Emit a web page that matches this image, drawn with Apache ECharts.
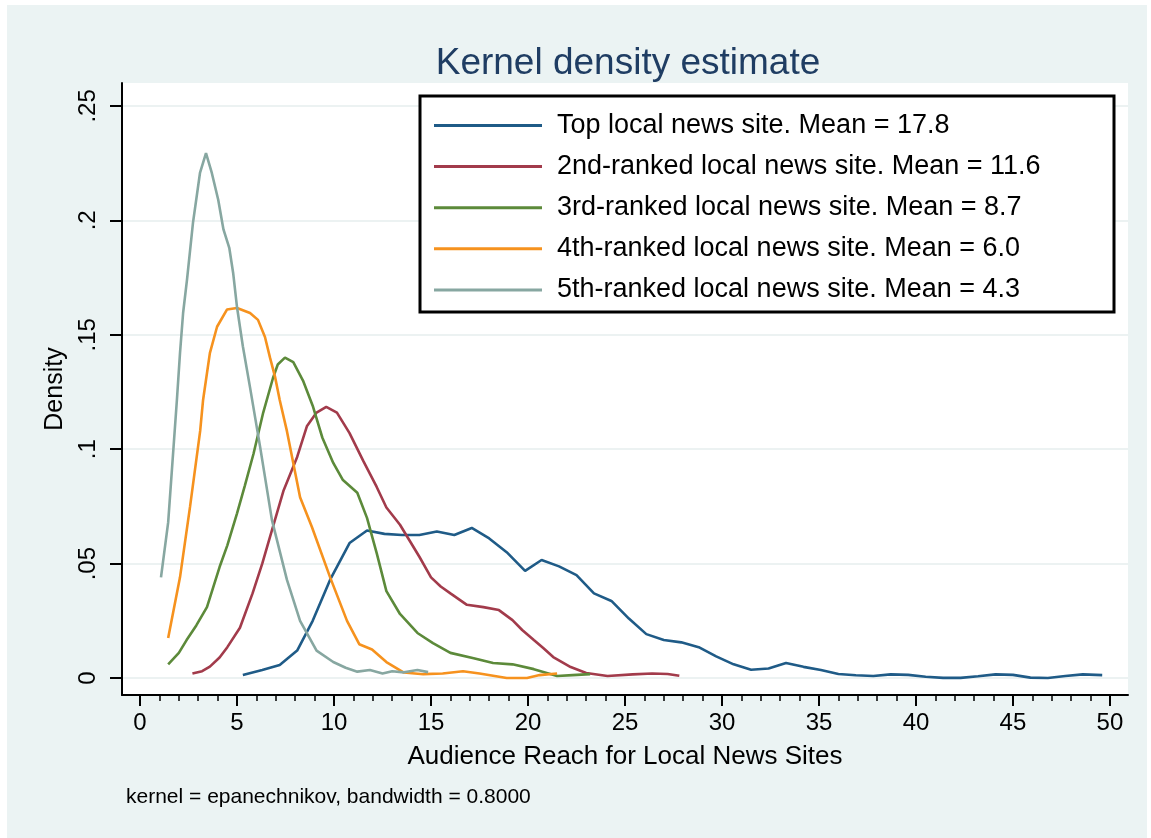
<!DOCTYPE html>
<html>
<head>
<meta charset="utf-8">
<title>Kernel density estimate</title>
<script src="https://cdn.jsdelivr.net/npm/echarts@6/dist/echarts.min.js"></script>
<style>
  html, body { margin: 0; padding: 0; background: #ffffff; }
  #frame { position: absolute; left: 7px; top: 5px; width: 1140px; height: 833px; background: #ebf3f3; }
  #chart { position: absolute; left: 0; top: 0; width: 1151px; height: 838px; }
</style>
</head>
<body>
<div id="frame"></div>
<div id="chart"></div>
<script>
// Density curves: [audience reach, density] pairs for each ranked site
const reachTop = [
  [5.3, 0.0013], [6.3, 0.0035], [7.2, 0.0057], [8.1, 0.012], [8.9, 0.025], [9.8, 0.043],
  [10.8, 0.059], [11.7, 0.0645], [12.6, 0.063], [13.5, 0.0625], [14.4, 0.0625], [15.3, 0.064],
  [16.2, 0.0625], [17.1, 0.0656], [18.0, 0.061], [18.9, 0.055], [19.85, 0.0468], [20.7, 0.0516],
  [21.6, 0.0488], [22.5, 0.045], [23.4, 0.037], [24.3, 0.0337], [25.2, 0.026], [26.1, 0.0192],
  [27.0, 0.0166], [27.9, 0.0156], [28.8, 0.0135], [29.7, 0.0095], [30.6, 0.006], [31.5, 0.0036],
  [32.4, 0.0042], [33.3, 0.0066], [34.2, 0.0049], [35.1, 0.0035], [36.0, 0.0018], [36.9, 0.0012],
  [37.8, 0.0009], [38.7, 0.0016], [39.6, 0.0014], [40.5, 0.0006], [41.4, 0.0001], [42.3, 0.0001],
  [43.2, 0.0008], [44.1, 0.0016], [45.0, 0.0014], [45.9, 0.0002], [46.8, 0.0], [47.7, 0.0009],
  [48.6, 0.0016], [49.6, 0.0013]
];
const reach2nd = [
  [2.7, 0.002], [3.2, 0.003], [3.6, 0.005], [4.1, 0.009], [4.5, 0.0135], [5.15, 0.022],
  [5.8, 0.037], [6.3, 0.05], [6.7, 0.0617], [7.4, 0.082], [8.1, 0.0966], [8.6, 0.11],
  [9.1, 0.116], [9.6, 0.1185], [10.15, 0.116], [10.8, 0.107], [11.5, 0.095], [12.2, 0.0835],
  [12.7, 0.0745], [13.4, 0.067], [13.9, 0.06], [14.4, 0.053], [15.0, 0.044], [15.5, 0.04],
  [16.0, 0.037], [16.85, 0.032], [17.7, 0.031], [18.5, 0.0297], [19.2, 0.0253], [19.7, 0.021],
  [20.3, 0.0166], [20.8, 0.013], [21.3, 0.0092], [22.2, 0.0048], [23.0, 0.0022], [24.1, 0.0009],
  [25.4, 0.0016], [26.4, 0.002], [27.2, 0.0018], [27.8, 0.001]
];
const reach3rd = [
  [1.45, 0.006], [2.0, 0.011], [2.4, 0.0166], [2.9, 0.023], [3.45, 0.031], [4.1, 0.0485],
  [4.5, 0.058], [5.0, 0.072], [5.4, 0.084], [5.85, 0.098], [6.35, 0.116], [6.85, 0.131],
  [7.1, 0.137], [7.47, 0.14], [7.9, 0.138], [8.4, 0.13], [8.9, 0.119], [9.4, 0.105],
  [9.96, 0.094], [10.46, 0.0865], [11.2, 0.081], [11.7, 0.07], [12.2, 0.0546],
  [12.7, 0.038], [13.4, 0.028], [14.3, 0.0197], [15.1, 0.0153], [16.0, 0.011], [17.2, 0.0087],
  [18.2, 0.0066], [19.2, 0.006], [20.3, 0.0039], [21.5, 0.0009], [22.3, 0.0013], [23.2, 0.0017]
];
const reach4th = [
  [1.45, 0.0175], [2.06, 0.044], [2.58, 0.075], [3.1, 0.108], [3.25, 0.1215], [3.6, 0.142],
  [3.97, 0.1535], [4.48, 0.161], [5.0, 0.1617], [5.67, 0.1595], [6.08, 0.1565], [6.44, 0.149],
  [6.7, 0.14], [6.96, 0.1316], [7.2, 0.1215], [7.57, 0.108], [8.25, 0.079], [8.86, 0.066],
  [9.8, 0.044], [10.67, 0.025], [11.3, 0.0148], [11.96, 0.0125], [12.7, 0.007], [13.6, 0.0024],
  [14.6, 0.0017], [15.6, 0.002], [16.65, 0.003], [17.5, 0.002], [18.9, 0.0], [19.95, 0.0],
  [20.6, 0.0013], [21.5, 0.002]
];
const reach5th = [
  [1.08, 0.044], [1.45, 0.068], [1.9, 0.1215], [2.06, 0.142], [2.22, 0.1595], [2.42, 0.174],
  [2.73, 0.199], [3.09, 0.2207], [3.4, 0.2294], [3.7, 0.2207], [4.03, 0.209], [4.3, 0.196],
  [4.6, 0.188], [4.8, 0.177], [5.0, 0.162], [5.3, 0.145], [5.67, 0.127], [6.19, 0.101],
  [6.8, 0.069], [7.57, 0.043], [8.25, 0.025], [9.1, 0.012], [9.96, 0.007], [10.6, 0.0045],
  [11.2, 0.0028], [11.85, 0.0035], [12.5, 0.002], [13.0, 0.003], [13.6, 0.0025],
  [14.3, 0.0035], [14.85, 0.0026]
];

const seriesNames = [
  'Top local news site. Mean = 17.8',
  '2nd-ranked local news site. Mean = 11.6',
  '3rd-ranked local news site. Mean = 8.7',
  '4th-ranked local news site. Mean = 6.0',
  '5th-ranked local news site. Mean = 4.3'
];
const seriesData = [reachTop, reach2nd, reach3rd, reach4th, reach5th];
const seriesColors = ['#1f5b87', '#a23b4b', '#5c8a3a', '#f6921e', '#87a7a1'];

const xMajorTicks = [0, 5, 10, 15, 20, 25, 30, 35, 40, 45, 50];
const xMinorTicks = [];
for (let v = 1; v < 50; v++) { if (v % 5 !== 0) xMinorTicks.push(v); }
const yTicks = [0, 0.05, 0.1, 0.15, 0.2, 0.25];

const FONT = '"Liberation Sans", Arial, Helvetica, sans-serif';

const chart = echarts.init(document.getElementById('chart'), null, { renderer: 'canvas' });

const option = {
  backgroundColor: 'transparent',
  animation: false,
  title: {
    text: 'Kernel density estimate',
    left: 623,
    top: 40,
    textAlign: 'center',
    textStyle: { fontFamily: FONT, fontSize: 37, fontWeight: 'normal', color: '#1f3d63' }
  },
  grid: {
    left: 122, top: 83, width: 1006, height: 612,
    show: true, backgroundColor: '#ffffff', borderWidth: 0
  },
  xAxis: [
    {
      type: 'value', min: -0.93, max: 50.93, position: 'bottom',
      name: 'Audience Reach for Local News Sites',
      nameLocation: 'middle', nameGap: 49,
      nameTextStyle: { fontFamily: FONT, fontSize: 26, color: '#000' },
      axisLine: { show: true, onZero: false, lineStyle: { color: '#000', width: 2 } },
      axisTick: { show: true, customValues: xMajorTicks, length: 11, lineStyle: { color: '#000', width: 2 } },
      axisLabel: { show: true, customValues: xMajorTicks, margin: 16, fontFamily: FONT, fontSize: 24, color: '#000' },
      splitLine: { show: false }
    },
    {
      type: 'value', min: -0.93, max: 50.93, position: 'bottom', offset: 0,
      axisLine: { show: false, onZero: false },
      axisTick: { show: true, customValues: xMinorTicks, length: 6, lineStyle: { color: '#000', width: 1.5 } },
      axisLabel: { show: false },
      splitLine: { show: false }
    }
  ],
  yAxis: {
    type: 'value', min: -0.0074, max: 0.26,
    name: 'Density', nameLocation: 'middle', nameGap: 50,
    nameTextStyle: { fontFamily: FONT, fontSize: 25, color: '#000' },
    axisLine: { show: true, onZero: false, lineStyle: { color: '#000', width: 2 } },
    axisTick: { show: true, customValues: yTicks, length: 12, lineStyle: { color: '#000', width: 2 } },
    axisLabel: {
      show: true, customValues: yTicks, rotate: 90, margin: 22,
      fontFamily: FONT, fontSize: 24, color: '#000',
      formatter: v => (v === 0 ? '0' : String(+v.toFixed(2)).replace(/^0/, ''))
    },
    splitLine: { show: true, lineStyle: { color: '#e6eeee', width: 1.5 } }
  },
  legend: {
    orient: 'vertical',
    left: 434, top: 112,
    padding: 0,
    itemWidth: 108, itemHeight: 3, itemGap: 14.1,
    icon: 'rect',
    data: seriesNames,
    textStyle: { fontFamily: FONT, fontSize: 27, lineHeight: 26, color: '#000', padding: [0, 0, 0, 10] },
    selectedMode: false
  },
  graphic: [
    {
      type: 'rect', z: 3,
      shape: { x: 420, y: 96, width: 694, height: 216 },
      style: { fill: '#ffffff', stroke: '#000', lineWidth: 3 }
    },
    {
      type: 'text', x: 126, y: 797, z: 5,
      style: {
        text: 'kernel = epanechnikov, bandwidth = 0.8000',
        font: '21px ' + FONT, fill: '#000', verticalAlign: 'middle', align: 'left'
      }
    }
  ],
  series: seriesData.map((d, i) => ({
    name: seriesNames[i],
    type: 'line',
    data: d,
    xAxisIndex: 0,
    showSymbol: false,
    symbol: 'none',
    smooth: false,
    color: seriesColors[i],
    lineStyle: { color: seriesColors[i], width: 2.6 },
    emphasis: { disabled: true }
  }))
};

chart.setOption(option);
</script>
</body>
</html>
